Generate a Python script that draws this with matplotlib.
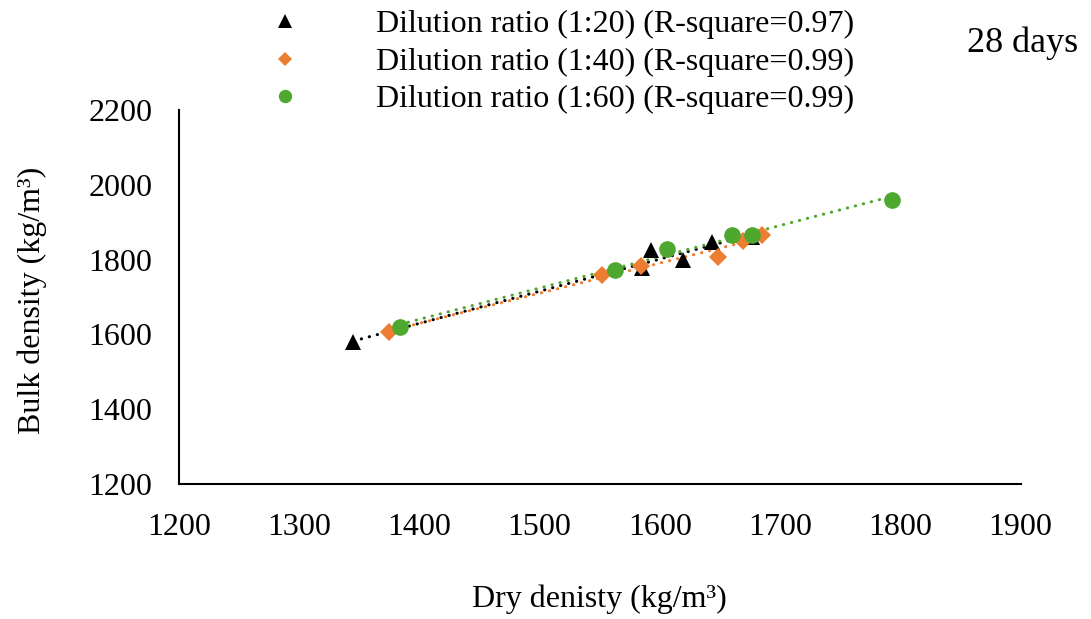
import numpy as np
import matplotlib
matplotlib.use("Agg")
import matplotlib.pyplot as plt

plt.rcParams['font.family'] = ['Liberation Serif', 'DejaVu Serif']

# Data (dry density, bulk density)
x_20 = [1345, 1593, 1585, 1619, 1643, 1677]
y_20 = [1580, 1826, 1777, 1799, 1848, 1860]
x_40 = [1375, 1552, 1584, 1648, 1669, 1685]
y_40 = [1607, 1760, 1782, 1808, 1849, 1867]
x_60 = [1384, 1563, 1606, 1660, 1677, 1793]
y_60 = [1620, 1773, 1829, 1867, 1867, 1959]

labels = ["Dilution ratio (1:20) (R-square=0.97)",
          "Dilution ratio (1:40) (R-square=0.99)",
          "Dilution ratio (1:60) (R-square=0.99)"]
colors = ["#000000", "#ED7D31", "#4EA72E"]
markers = ["^", "D", "o"]
msizes = [12, 9.5, 12]

xticks = [1200, 1300, 1400, 1500, 1600, 1700, 1800, 1900]
yticks = [1200, 1400, 1600, 1800, 2000, 2200]

FS = 23

fig = plt.figure(figsize=(10.91, 6.19), dpi=100)
ax = fig.add_axes([179/1091, 1-484/619, (1020.5-179)/1091, (484-110)/619])

series = [(x_20, y_20), (x_40, y_40), (x_60, y_60)]
handles = []
for (xs, ys), c in zip(series, colors):
    xs = np.array(xs, float); ys = np.array(ys, float)
    p = np.polyfit(xs, ys, 1)
    xl = np.array([xs.min(), xs.max()])
    ax.plot(xl, np.polyval(p, xl), color=c, lw=2.2, linestyle=(0, (0.1, 2.6)),
            dash_capstyle='round', zorder=2)
for (xs, ys), c, m, s, lab in zip(series, colors, markers, msizes, labels):
    h, = ax.plot(xs, ys, linestyle='none', marker=m, color=c, markersize=s,
                 markeredgewidth=0, label=lab, zorder=3)
    handles.append(h)

ax.set_xlim(1200, 1900)
ax.set_ylim(1200, 2200)
ax.set_xticks(xticks)
ax.set_yticks(yticks)
ax.tick_params(axis='both', length=0, labelsize=FS)
ax.tick_params(axis='x', pad=21)
ax.tick_params(axis='y', pad=19)
for sp in ['top', 'right']:
    ax.spines[sp].set_visible(False)
for sp in ['left', 'bottom']:
    ax.spines[sp].set_linewidth(1.5)
    ax.spines[sp].set_color('#000000')

ax.set_xlabel("Dry denisty (kg/m³)", fontsize=FS)
ax.set_ylabel("Bulk density (kg/m³)", fontsize=FS)
ax.xaxis.set_label_coords(0.5, (484-584)/374)
ax.yaxis.set_label_coords((47-179)/841.5, 0.49)

leg = fig.legend(handles=handles, loc='upper left',
                 bbox_to_anchor=(253/1091, 1-10/619), frameon=False,
                 fontsize=FS, handlelength=2.0, handletextpad=1.85,
                 labelspacing=0.25, borderpad=0, borderaxespad=0)
for h in leg.legend_handles:
    h.set_markersize(h.get_markersize()*0.8)

fig.text(1078/1091, 1-43/619, "28 days", fontsize=26, ha='right', va='center')

fig.savefig("out.png", dpi=100)
